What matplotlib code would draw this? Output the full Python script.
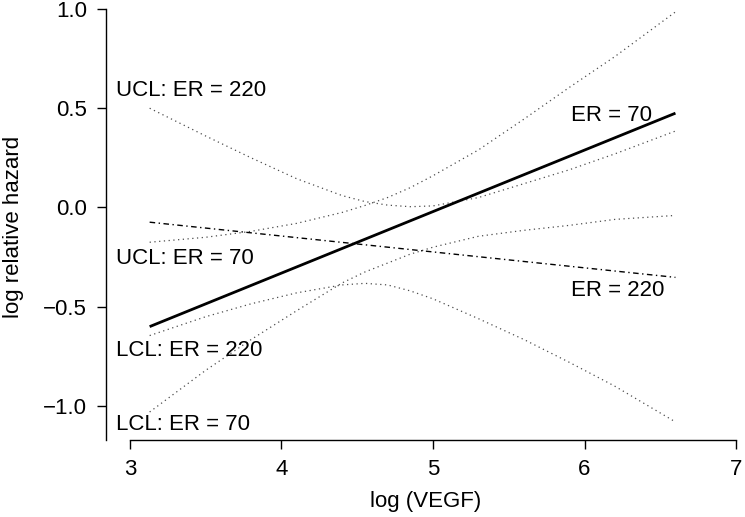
import matplotlib
matplotlib.use("Agg")
import matplotlib.pyplot as plt

plt.rcParams['font.family'] = ['Liberation Sans', 'DejaVu Sans']

# fitted lines (endpoints)
x_line = [3.13, 6.60]
er70 = [-0.60, 0.475]
er220 = [-0.074, -0.352]

# confidence limits
x_cl = [3.13, 3.5, 3.8, 4.1, 4.4, 4.55, 4.7, 4.85, 5.0, 5.3, 5.6, 5.9, 6.2, 6.6]
ucl220 = [0.50, 0.36, 0.25, 0.145, 0.06, 0.03, 0.012, 0.004, 0.008, 0.05, 0.12, 0.19, 0.27, 0.385]
lcl220 = [-0.645, -0.55, -0.485, -0.43, -0.39, -0.382, -0.39, -0.42, -0.46, -0.56, -0.665, -0.78, -0.90, -1.08]
ucl70 = [-0.175, -0.15, -0.12, -0.08, -0.025, 0.01, 0.05, 0.10, 0.16, 0.29, 0.445, 0.605, 0.76, 0.985]
lcl70 = [-1.03, -0.82, -0.665, -0.52, -0.38, -0.325, -0.28, -0.235, -0.20, -0.145, -0.115, -0.09, -0.06, -0.04]

xticks = [3, 4, 5, 6, 7]
yticks = [-1.0, -0.5, 0.0, 0.5, 1.0]
ytick_labels = ['\u22121.0', '\u22120.5', '0.0', '0.5', '1.0']

W, H = 745, 517
fig = plt.figure(figsize=(W / 100, H / 100), dpi=100)
# axes spanning pixel x 106..745, y 0..440
ax = fig.add_axes([106 / W, (H - 440) / H, (745 - 106) / W, 440 / H])
ax.set_xlim(2.842, 7.059)
ax.set_ylim(-1.171, 1.045)

dot = dict(color='black', lw=0.9, linestyle=(0, (1, 2.8)), alpha=0.7)
ax.plot(x_cl, ucl220, **dot)
ax.plot(x_cl, lcl220, **dot)
ax.plot(x_cl, ucl70, **dot)
ax.plot(x_cl, lcl70, **dot)
ax.plot(x_line, er220, color='black', lw=1.0, linestyle=(0, (4, 2.5, 1, 2.5)))
ax.plot(x_line, er70, color='black', lw=2.0, solid_capstyle='butt')

fs = 16
ax.text(2.905, 0.59, 'UCL: ER = 220', fontsize=fs, va='center', ha='left')
ax.text(2.905, -0.257, 'UCL: ER = 70', fontsize=fs, va='center', ha='left')
ax.text(2.905, -0.72, 'LCL: ER = 220', fontsize=fs, va='center', ha='left')
ax.text(2.905, -1.093, 'LCL: ER = 70', fontsize=fs, va='center', ha='left')
ax.text(6.175, 0.463, 'ER = 70', fontsize=fs, va='center', ha='center')
ax.text(6.22, -0.418, 'ER = 220', fontsize=fs, va='center', ha='center')

for s in ['top', 'right']:
    ax.spines[s].set_visible(False)
ax.spines['left'].set_bounds(-1.171, 1.0)
ax.spines['bottom'].set_bounds(3, 7)
ax.spines['left'].set_linewidth(1.0)
ax.spines['bottom'].set_linewidth(1.0)

ax.set_xticks(xticks)
ax.set_xticklabels([str(t) for t in xticks])
ax.set_yticks(yticks)
ax.set_yticklabels(ytick_labels)
ax.tick_params(axis='both', direction='out', length=6.5, width=1.0, labelsize=fs, pad=7)

ax.set_xlabel('log (VEGF)', fontsize=fs, labelpad=8)
ax.set_ylabel('log relative hazard', fontsize=fs)
ax.yaxis.set_label_coords(-0.128, 0.484)

fig.savefig('out.png', dpi=100)
